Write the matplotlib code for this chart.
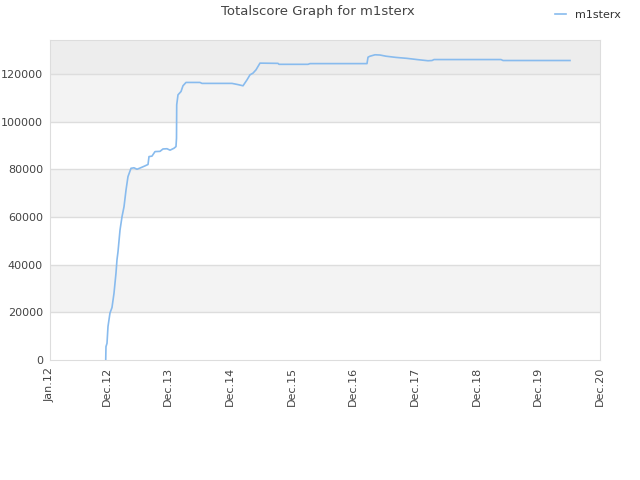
import matplotlib
matplotlib.use("Agg")
import matplotlib.pyplot as plt

# months since Jan 2012
months = [10.84, 10.89, 11.09, 11.28, 11.67, 12.06, 12.45, 12.84, 13.03, 13.23,
          13.62, 14.01, 14.40, 14.79, 15.17, 15.76, 16.34, 16.93, 17.51, 18.48,
          19.07, 19.26, 19.84, 20.43, 21.40, 21.98, 22.76, 23.35, 24.12, 24.51,
          24.61, 24.65, 24.90, 25.49, 25.87, 26.46, 29.18, 29.57, 35.41, 36.57,
          37.55, 38.33, 38.91, 39.49, 40.08, 40.85, 44.36, 44.55, 50.19, 50.58,
          61.67, 61.87, 62.25, 63.23, 64.20, 65.37, 67.31, 69.45, 71.40, 73.54,
          74.32, 74.71, 87.74, 88.13, 101.16]
score = [0, 5600, 7000, 14000, 19700, 22000, 28000, 36500, 42000, 45400,
         54500, 60100, 64300, 71300, 76900, 80400, 80600, 80000, 80500, 81400,
         82000, 85300, 85500, 87400, 87500, 88500, 88600, 88000, 88800, 89500,
         93000, 107000, 111200, 112600, 115000, 116400, 116400, 116000, 116000, 115500,
         115000, 117500, 119600, 120300, 121700, 124500, 124400, 124000, 124000, 124300,
         124300, 127000, 127400, 128000, 127900, 127400, 126900, 126500, 126000, 125500,
         125600, 126000, 126000, 125600, 125600]

tick_pos = [0, 11, 23, 35, 47, 59, 71, 83, 95, 107]
tick_labels = ["Jan.12", "Dec.12", "Dec.13", "Dec.14", "Dec.15",
               "Dec.16", "Dec.17", "Dec.18", "Dec.19", "Dec.20"]
y_ticks = [0, 20000, 40000, 60000, 80000, 100000, 120000]

fig = plt.figure(figsize=(6.4, 4.8), dpi=100)
ax = fig.add_axes([50 / 640, 120 / 480, 550 / 640, 320 / 480])

ymax = 134200
# alternating background bands
for lo in range(0, 140000, 20000):
    if lo >= 120000:
        c = "#ededed"
    elif (lo // 20000) % 2 == 1:
        c = "#f3f3f3"
    else:
        c = "#ffffff"
    ax.axhspan(lo, lo + 20000, color=c, zorder=0, lw=0)
for yt in y_ticks[1:]:
    ax.axhline(yt, color="#dddddd", lw=1, zorder=1)

ax.plot(months, score, color="#88bbee", lw=1.2, zorder=3, label="m1sterx")

ax.set_xlim(0, 107)
ax.set_ylim(0, ymax)
ax.set_xticks(tick_pos)
ax.set_xticklabels(tick_labels, rotation=90, fontsize=8, color="#444444")
ax.set_yticks(y_ticks)
ax.set_yticklabels([str(v) for v in y_ticks], fontsize=8, color="#444444")
ax.tick_params(length=0, pad=5)
for s in ax.spines.values():
    s.set_color("#dddddd")

fig.text(318 / 640, 1 - 12 / 480, "Totalscore Graph for m1sterx", ha="center",
         va="center", fontsize=9.5, color="#444444")
fig.legend(loc="upper right", bbox_to_anchor=(0.985, 1.0), frameon=False,
           fontsize=8, handlelength=1.0, labelcolor="#333333")

fig.savefig("out.png", dpi=100)
